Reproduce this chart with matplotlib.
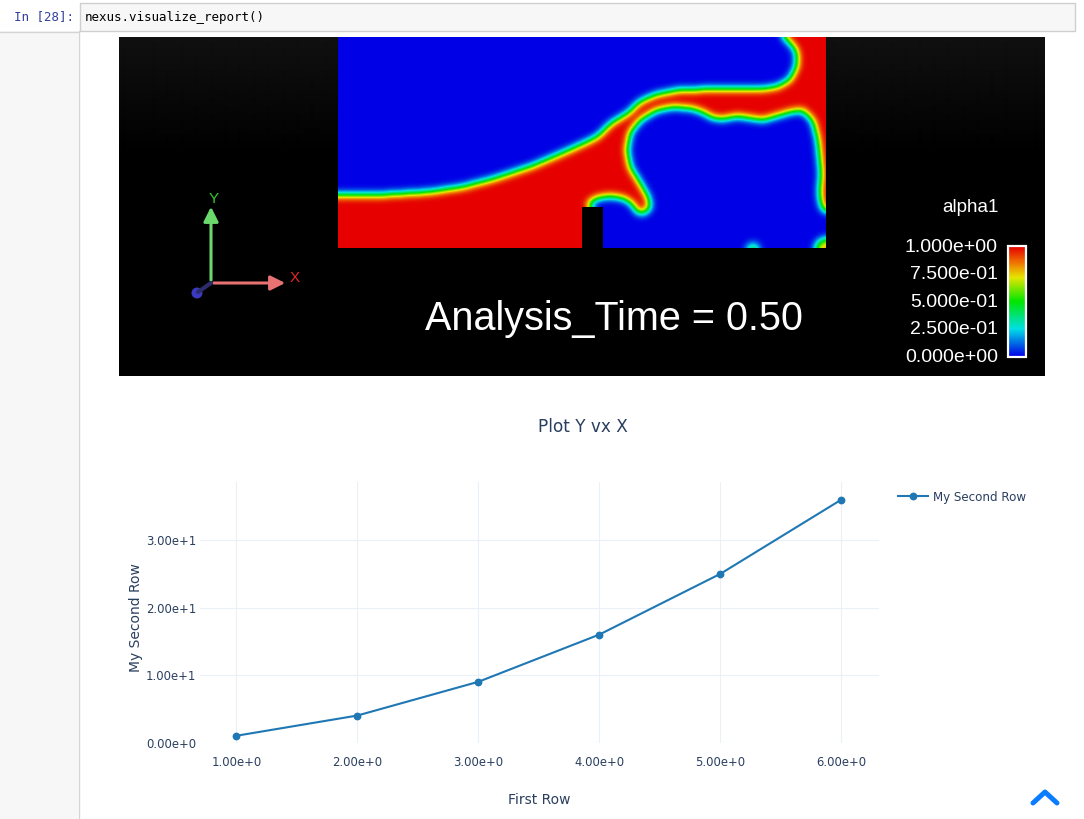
import numpy as np
import matplotlib

matplotlib.use("Agg")
import matplotlib.pyplot as plt
from matplotlib.path import Path
from matplotlib.patches import Rectangle, Circle, FancyArrowPatch
from matplotlib.colors import LinearSegmentedColormap
from matplotlib.ticker import FixedLocator, FuncFormatter

# ================= data =================
first_row = [1, 2, 3, 4, 5, 6]
second_row = [1, 4, 9, 16, 25, 36]
x_ticks = [1, 2, 3, 4, 5, 6]
y_ticks = [0, 10, 20, 30]

cbar_labels = ["1.000e+00", "7.500e-01", "5.000e-01", "2.500e-01", "0.000e+00"]

# liquid (alpha1 = 1) region of the rendered snapshot, in screen pixels
liquid_outline = [
    (334, 252), (334, 195), (380, 195), (430, 192), (463, 187), (497, 178),
    (530, 167), (563, 153), (585, 143), (597, 137), (612, 123), (630, 112),
    (640, 102), (655, 95), (680, 90), (720, 89), (763, 89), (777, 87),
    (790, 80), (797, 66), (797, 52), (790, 42), (780, 35), (830, 35),
    (830, 212), (823, 210), (820, 197), (821, 170), (818, 140), (813, 120),
    (803, 110), (790, 112), (773, 117), (763, 120), (750, 118), (737, 116),
    (723, 119), (713, 118), (703, 112), (690, 108), (673, 107), (657, 110),
    (640, 120), (630, 133), (627, 150), (630, 167), (640, 183), (648, 197),
    (650, 207), (645, 213), (638, 213), (632, 203), (623, 198), (610, 196),
    (597, 198), (588, 203), (592, 210), (592, 252),
]
# small droplets (x, y, radius, weight)
droplets = [(753, 249, 5, 0.6), (826, 249, 10, 0.8)]

# ================= helpers =================
W, H, DPI = 1084, 819, 100
fig = plt.figure(figsize=(W / DPI, H / DPI), dpi=DPI)
fig.patch.set_facecolor("white")

bg = fig.add_axes([0, 0, 1, 1])
bg.set_axis_off()


def blur(a, s):
    r = int(3 * s)
    k = np.exp(-0.5 * (np.arange(-r, r + 1) / s) ** 2)
    k /= k.sum()
    a = np.pad(a, r, mode="edge")
    a = np.apply_along_axis(lambda v: np.convolve(v, k, mode="valid"), 0, a)
    a = np.apply_along_axis(lambda v: np.convolve(v, k, mode="valid"), 1, a)
    return a


# ================= notebook chrome =================
bg.add_patch(Rectangle((0, 31), 78, H, fc="#f7f7f7", ec="none"))
bg.plot([78.5, 78.5], [31, H], color="#d4d4d4", lw=1)
bg.plot([0, 78], [31.5, 31.5], color="#d4d4d4", lw=1)
bg.add_patch(Rectangle((79.5, 2.5), 995.5, 28, fc="#f7f7f7", ec="#cfcfcf", lw=1))
bg.text(74, 17, "In [28]:", color="#303F9F", family="DejaVu Sans Mono",
        fontsize=9, ha="right", va="center")
bg.text(85, 17, "nexus.visualize_report()", color="#000000",
        family="DejaVu Sans Mono", fontsize=9, ha="left", va="center")

# ================= rendered image =================
grad = np.linspace(0.065, 0.0, 120)
grad = np.concatenate([grad, np.zeros(219)])[:, None]
bg.imshow(grad, cmap="gray", vmin=0, vmax=1, extent=(119, 1045, 376, 37),
          origin="upper", aspect="auto", interpolation="bilinear")

jet = LinearSegmentedColormap.from_list(
    "alpha", [(0.0, "#0000e6"), (0.25, "#00e0e6"), (0.5, "#00e600"),
              (0.72, "#e6e600"), (0.86, "#f07000"), (1.0, "#e60000")])

xs = np.arange(338.5, 826)
ys = np.arange(37.5, 248)
gx, gy = np.meshgrid(xs, ys)
pts = np.column_stack([gx.ravel(), gy.ravel()])
field = Path(liquid_outline).contains_points(pts).reshape(gx.shape).astype(float)
for cx, cy, rad, wgt in droplets:
    field = np.maximum(field, wgt * (((gx - cx) ** 2 + (gy - cy) ** 2) < rad ** 2))
field = np.clip(blur(field, 4.2), 0, 1)
bg.imshow(field, cmap=jet, vmin=0, vmax=1, extent=(338, 826, 248, 37),
          origin="upper", aspect="auto", interpolation="bilinear")
bg.add_patch(Rectangle((582, 207), 21, 42, fc="black", ec="none"))

# axis triad
bg.add_patch(FancyArrowPatch((211, 283), (211, 204), arrowstyle="-|>",
                             mutation_scale=22, color="#6ad86a", lw=2.2))
bg.add_patch(FancyArrowPatch((211, 283), (288, 283), arrowstyle="-|>",
                             mutation_scale=22, color="#e87272", lw=2.2))
bg.plot([211, 198], [283, 292], color="#2c2c6a", lw=3, solid_capstyle="round")
bg.add_patch(Circle((197, 293), 5.5, fc="#3a3ac0", ec="none"))
bg.text(214, 199, "Y", color="#2ecc2e", family="Liberation Sans", fontsize=11,
        ha="center", va="center")
bg.text(295, 278, "X", color="#e02828", family="Liberation Sans", fontsize=11,
        ha="center", va="center")

bg.text(614, 319, "Analysis_Time = 0.50", color="white", family="Liberation Sans",
        fontsize=28.5, ha="center", va="center")

# color legend
bg.text(970, 208, "alpha1", color="white", family="Liberation Sans", fontsize=13.5,
        ha="center", va="center")
cb = np.linspace(1, 0, 100)[:, None]
bg.imshow(cb, cmap=jet, vmin=0, vmax=1, extent=(1008, 1026, 357, 246),
          origin="upper", aspect="auto")
bg.add_patch(Rectangle((1008, 246), 18, 111, fc="none", ec="white", lw=1.6))
for i, lab in enumerate(cbar_labels):
    bg.text(998, 247 + i * 27.6, lab, color="white", family="Liberation Sans",
            fontsize=14, ha="right", va="center")

# scroll-to-top chevron
bg.plot([1033, 1045, 1057], [803, 792, 803], color="#0a7cff", lw=3.6,
        solid_capstyle="round", solid_joinstyle="round")

bg.set_xlim(0, W)
bg.set_ylim(H, 0)

# ================= plotly-like line chart =================
txt = "#2a3f5f"
grid = "#ebf0f8"
font = "DejaVu Sans"
ax = fig.add_axes([200 / W, 76 / H, 679 / W, 261 / H])
ax.set_facecolor("white")
ax.plot(first_row, second_row, color="#1f77b4", lw=1.5, marker="o", ms=4.6,
        label="My Second Row", zorder=3)
ax.set_xlim(0.7, 6.31)
ax.set_ylim(-0.07, 38.6)


def sci(v, _pos=None):
    m, e = f"{v:.2e}".split("e")
    return f"{m}e{'+' if int(e) >= 0 else '-'}{abs(int(e))}"


ax.xaxis.set_major_locator(FixedLocator(x_ticks))
ax.yaxis.set_major_locator(FixedLocator(y_ticks))
ax.xaxis.set_major_formatter(FuncFormatter(sci))
ax.yaxis.set_major_formatter(FuncFormatter(sci))
ax.grid(True, color=grid, lw=0.8)
ax.set_axisbelow(True)
for s in ax.spines.values():
    s.set_visible(False)
ax.tick_params(axis="both", length=0, labelsize=8.4, labelcolor=txt)
ax.tick_params(axis="x", pad=9)
ax.tick_params(axis="y", pad=2.5)
for t in ax.get_xticklabels() + ax.get_yticklabels():
    t.set_family(font)

ax.set_xlabel("First Row", family=font, fontsize=10, color=txt)
ax.xaxis.set_label_coords(0.5, (743 - 800) / 261)
ax.xaxis.label.set_va("center")
ax.set_ylabel("My Second Row", family=font, fontsize=10, color=txt)
ax.yaxis.set_label_coords((136 - 200) / 679, (743 - 618) / 261)
ax.yaxis.label.set_va("center")

fig.text(583 / W, (H - 427) / H, "Plot Y vx X", family=font, fontsize=12.2,
         color=txt, ha="center", va="center")

leg = ax.legend(loc="center left", bbox_to_anchor=(898 / W, (H - 497) / H),
                bbox_transform=fig.transFigure, frameon=False, borderpad=0,
                borderaxespad=0, handlelength=2.5, handletextpad=0.4,
                prop={"family": font, "size": 8.6})
for t in leg.get_texts():
    t.set_color(txt)

fig.savefig("out.png", dpi=DPI)
